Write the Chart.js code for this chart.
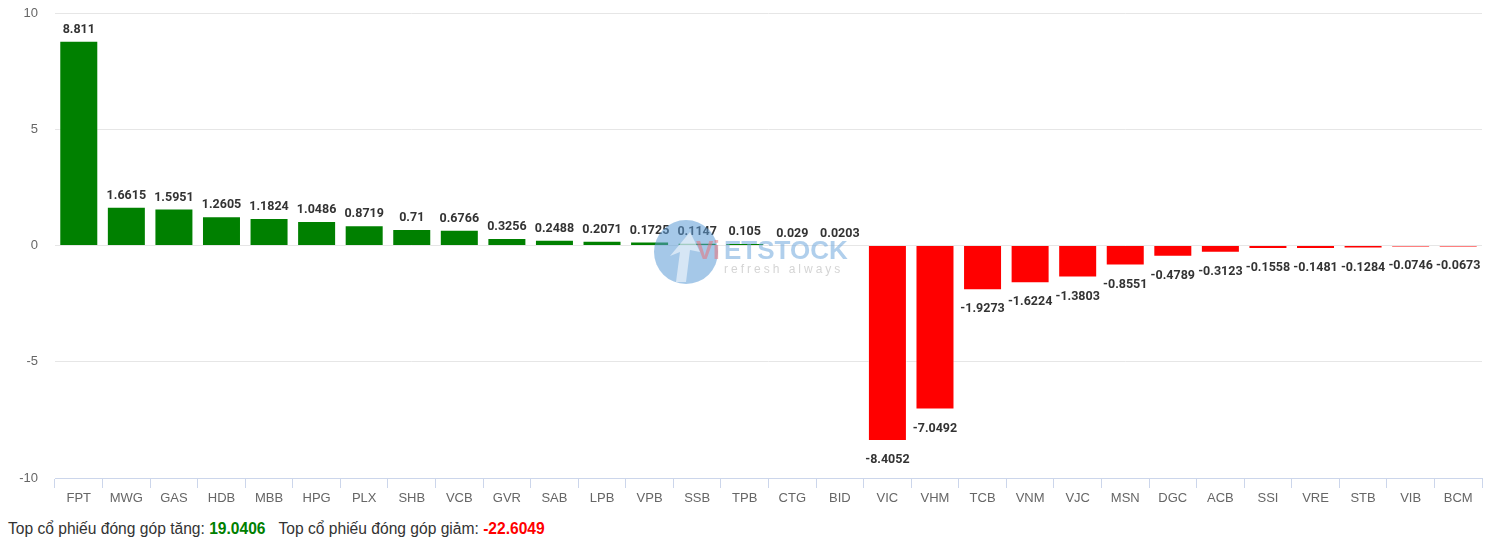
<!DOCTYPE html>
<html>
<head>
<meta charset="utf-8">
<script src="https://cdn.jsdelivr.net/npm/chart.js@4"></script>
<style>
  body { margin: 0; background: #fff; font-family: "Liberation Sans", Arial, sans-serif; }
  #wrap { position: relative; width: 1496px; height: 512px; }
  #summary { margin: 7px 0 0 8px; font-size: 15.6px; color: #333; line-height: 20px; white-space: nowrap; }
  #summary b.up { color: #008000; }
  #summary b.down { color: #ff0000; }
</style>
</head>
<body>
<div id="wrap"><canvas id="chart"></canvas></div>
<div id="summary">
  Top cổ phiếu đóng góp tăng: <b class="up" id="sum-up"></b>&nbsp;&nbsp;&nbsp;Top cổ phiếu đóng góp giảm: <b class="down" id="sum-down"></b>
</div>
<script>
const tickers = ["FPT", "MWG", "GAS", "HDB", "MBB", "HPG", "PLX", "SHB", "VCB", "GVR", "SAB", "LPB", "VPB", "SSB", "TPB", "CTG", "BID",
  "VIC", "VHM", "TCB", "VNM", "VJC", "MSN", "DGC", "ACB", "SSI", "VRE", "STB", "VIB", "BCM"];
const points = [8.811, 1.6615, 1.5951, 1.2605, 1.1824, 1.0486, 0.8719, 0.71, 0.6766, 0.3256, 0.2488, 0.2071, 0.1725, 0.1147, 0.105, 0.029, 0.0203,
  -8.4052, -7.0492, -1.9273, -1.6224, -1.3803, -0.8551, -0.4789, -0.3123, -0.1558, -0.1481, -0.1284, -0.0746, -0.0673];
const yTicks = [-10, -5, 0, 5, 10];

const upTotal = points.filter(v => v > 0).reduce((a, b) => a + b, 0);
const downTotal = points.filter(v => v < 0).reduce((a, b) => a + b, 0);
document.getElementById("sum-up").innerText = upTotal.toFixed(4);
document.getElementById("sum-down").innerText = downTotal.toFixed(4);

// value labels above / below each bar
const valueLabels = {
  id: "valueLabels",
  afterDatasetsDraw(chart) {
    const ctx = chart.ctx;
    const meta = chart.getDatasetMeta(0);
    ctx.save();
    ctx.font = "bold 12.5px Roboto";
    ctx.fillStyle = "#333333";
    ctx.textAlign = "center";
    ctx.textBaseline = "middle";
    meta.data.forEach((bar, i) => {
      const v = points[i];
      const y = v >= 0 ? bar.y - 11 : bar.y + 19;
      ctx.fillText(String(v), bar.x, y);
    });
    ctx.restore();
  }
};

// faint site watermark in the middle
const watermark = {
  id: "watermark",
  afterDatasetsDraw(chart) {
    const ctx = chart.ctx;
    ctx.save();
    ctx.globalAlpha = 0.55;
    ctx.fillStyle = "#5b9bd5";
    ctx.beginPath();
    ctx.arc(686, 252, 32, 0, Math.PI * 2);
    ctx.fill();
    ctx.fillStyle = "#ffffff";
    ctx.beginPath();
    ctx.moveTo(676, 282); ctx.lineTo(680, 252); ctx.lineTo(670, 256); ctx.lineTo(690, 232);
    ctx.lineTo(700, 252); ctx.lineTo(690, 250); ctx.lineTo(686, 282); ctx.closePath();
    ctx.fill();
    ctx.font = "bold 26px 'Liberation Sans'";
    ctx.textBaseline = "middle";
    ctx.fillStyle = "#e8737a";
    ctx.fillText("Vi", 696, 252);
    ctx.fillStyle = "#6fa8dc";
    ctx.fillText("ETSTOCK", 724, 252);
    ctx.font = "12px 'Liberation Sans'";
    ctx.letterSpacing = "3px";
    ctx.fillStyle = "#b0b0b0";
    ctx.fillText("refresh always", 724, 270);
    ctx.restore();
  }
};

new Chart(document.getElementById("chart"), {
  type: "bar",
  data: {
    labels: tickers,
    datasets: [{
      data: points,
      backgroundColor: points.map(v => v >= 0 ? "#008000" : "#ff0000"),
      borderColor: "rgba(255,255,255,0.5)",
      borderWidth: 1,
      barPercentage: 0.82,
      categoryPercentage: 1
    }]
  },
  options: {
    responsive: true,
    maintainAspectRatio: false,
    animation: false,
    layout: { padding: { top: 13, right: 14, left: 0, bottom: 0 } },
    plugins: { legend: { display: false }, tooltip: { enabled: false } },
    scales: {
      x: {
        grid: { drawOnChartArea: false, drawTicks: true, tickLength: 10, color: "#ccd6eb", offset: true },
        border: { color: "#ccd6eb" },
        ticks: { color: "#666666", font: { family: "Liberation Sans", size: 13 }, padding: 3, autoSkip: false, maxRotation: 0 },
        afterFit: s => { s.height = 34; }
      },
      y: {
        min: -10,
        max: 10,
        afterBuildTicks: s => { s.ticks = yTicks.map(v => ({ value: v })); },
        grid: { color: "#e6e6e6", drawTicks: false },
        border: { display: false },
        ticks: { color: "#666666", font: { family: "Liberation Sans", size: 13 }, padding: 17, callback: v => String(v) },
        afterFit: s => { s.width = 55; s.paddingTop = 0; s.paddingBottom = 0; }
      }
    }
  },
  plugins: [valueLabels, watermark]
});
</script>
</body>
</html>
